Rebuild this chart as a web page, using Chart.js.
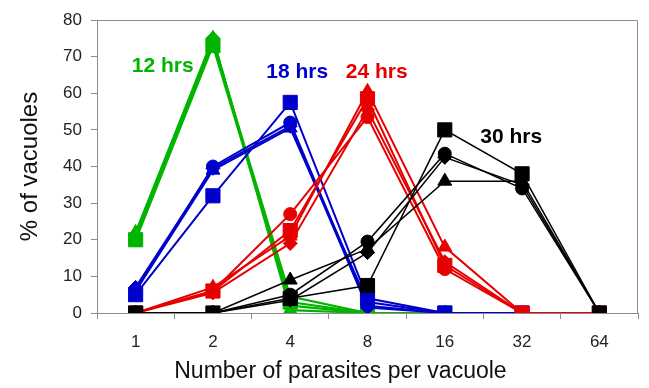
<!DOCTYPE html>
<html>
<head>
<meta charset="utf-8">
<script src="https://cdn.jsdelivr.net/npm/chart.js@4"></script>
<style>
  html, body { margin: 0; padding: 0; background: #fff; }
  #wrap { width: 649px; height: 388px; }
</style>
</head>
<body>
<div id="wrap"><canvas id="chart" width="649" height="388"></canvas></div>
<script>
// categories on the x axis (parasites per vacuole)
const parasites = ['1', '2', '4', '8', '16', '32', '64'];

// % of vacuoles, four replicates per time point (square, circle, diamond, triangle)
const hrs12Square = [20, 73, 3, 0, 0];
const hrs12Circle = [20, 74, 4.5, 0, 0];
const hrs12Diamond = [21, 75, 2, 0, 0];
const hrs12Triangle = [22, 75, 0.8, 0, 0];

const hrs18Square = [5, 32, 57.5, 4, 0, 0];
const hrs18Circle = [6, 40, 52, 2, 0, 0];
const hrs18Diamond = [7, 39.5, 51, 1.5, 0, 0];
const hrs18Triangle = [6, 39, 50.5, 3, 0, 0];

const hrs24Square = [0, 6, 22.5, 58.5, 13, 0, 0];
const hrs24Circle = [0, 6, 27, 53.5, 12, 0, 0];
const hrs24Diamond = [0, 5.5, 19, 55.5, 14, 0, 0];
const hrs24Triangle = [0, 7, 21, 60.5, 18, 0, 0];

const hrs30Square = [0, 0, 4, 7.5, 50, 38, 0];
const hrs30Circle = [0, 0, 5, 19.5, 43.5, 34, 0];
const hrs30Diamond = [0, 0, 3.5, 16.5, 42.5, 35, 0];
const hrs30Triangle = [0, 0, 9, 17.5, 36, 36, 0];

const yTicks = [0, 10, 20, 30, 40, 50, 60, 70, 80];

// time labels: text, colour, x (category index), y (% value)
const timeLabels = [
  { text: '12 hrs', color: '#00b400', x: 0.35, y: 67.4 },
  { text: '18 hrs', color: '#0000cc', x: 2.09, y: 65.7 },
  { text: '24 hrs', color: '#e60000', x: 3.12, y: 65.7 },
  { text: '30 hrs', color: '#000000', x: 4.86, y: 48.1 }
];

const GREEN = '#00b400';
const BLUE = '#0000cc';
const RED = '#e60000';
const BLACK = '#000000';
const FONT = '"Liberation Sans", Arial, sans-serif';

const markers = [
  { style: 'rect', radius: 10 },
  { style: 'circle', radius: 6.5 },
  { style: 'rectRot', radius: 7 },
  { style: 'triangle', radius: 8 }
];

function group(color, width, series) {
  return series.map((data, i) => ({
    data: data,
    borderColor: color,
    backgroundColor: color,
    borderWidth: width,
    pointStyle: markers[i].style,
    pointRadius: markers[i].radius,
    pointBorderWidth: 1,
    pointHoverRadius: markers[i].radius,
    tension: 0
  }));
}

// dataset 0 is drawn on top, so black goes first
const datasets = [].concat(
  group(BLACK, 1.5, [hrs30Square, hrs30Circle, hrs30Diamond, hrs30Triangle]),
  group(RED, 2, [hrs24Square, hrs24Circle, hrs24Diamond, hrs24Triangle]),
  group(BLUE, 2, [hrs18Square, hrs18Circle, hrs18Diamond, hrs18Triangle]),
  group(GREEN, 2.2, [hrs12Square, hrs12Circle, hrs12Diamond, hrs12Triangle])
);

const frameAndLabels = {
  id: 'frameAndLabels',
  beforeDatasetsDraw(chart) {
    const { ctx, chartArea: a } = chart;
    ctx.save();
    ctx.strokeStyle = '#8c8c8c';
    ctx.lineWidth = 1;
    ctx.beginPath();
    ctx.moveTo(a.left, a.top + 0.5);
    ctx.lineTo(a.right - 0.5, a.top + 0.5);
    ctx.lineTo(a.right - 0.5, a.bottom);
    ctx.stroke();
    ctx.restore();
  },
  afterDatasetsDraw(chart) {
    const { ctx, chartArea: a, scales } = chart;
    const step = (a.right - a.left) / parasites.length;
    ctx.save();
    ctx.font = 'bold 21px ' + FONT;
    ctx.textAlign = 'center';
    ctx.textBaseline = 'middle';
    timeLabels.forEach(l => {
      ctx.fillStyle = l.color;
      ctx.fillText(l.text, a.left + (l.x + 0.5) * step, scales.y.getPixelForValue(l.y));
    });
    // x axis title sits a little left of the plot centre in the original
    ctx.font = '23px ' + FONT;
    ctx.fillStyle = '#111';
    ctx.fillText('Number of parasites per vacuole', a.left + (a.right - a.left) * 0.45, 372);
    ctx.restore();
  }
};

new Chart(document.getElementById('chart'), {
  type: 'line',
  data: { labels: parasites, datasets: datasets },
  plugins: [frameAndLabels],
  options: {
    responsive: false,
    animation: false,
    layout: { padding: { top: 20, right: 4, left: 0, bottom: 0 } },
    plugins: { legend: { display: false }, tooltip: { enabled: false } },
    scales: {
      x: {
        offset: true,
        afterFit: s => { s.height = 75; },
        grid: { display: true, drawOnChartArea: false, drawTicks: true, tickLength: 6, color: '#8c8c8c', offset: true },
        border: { display: true, color: '#8c8c8c' },
        ticks: { color: '#222', padding: 13, font: { family: FONT, size: 17 } },
        title: { display: false }
      },
      y: {
        min: 0,
        max: 80,
        afterFit: s => { s.width = 97; },
        afterBuildTicks: s => { s.ticks = yTicks.map(v => ({ value: v })); },
        grid: { display: true, drawOnChartArea: false, drawTicks: true, tickLength: 6, color: '#8c8c8c' },
        border: { display: true, color: '#8c8c8c' },
        ticks: { color: '#222', padding: 9, font: { family: FONT, size: 17 } },
        title: {
          display: true,
          text: '% of vacuoles',
          color: '#111',
          padding: { top: 16, bottom: 4 },
          font: { family: FONT, size: 24 }
        }
      }
    }
  }
});
</script>
</body>
</html>
